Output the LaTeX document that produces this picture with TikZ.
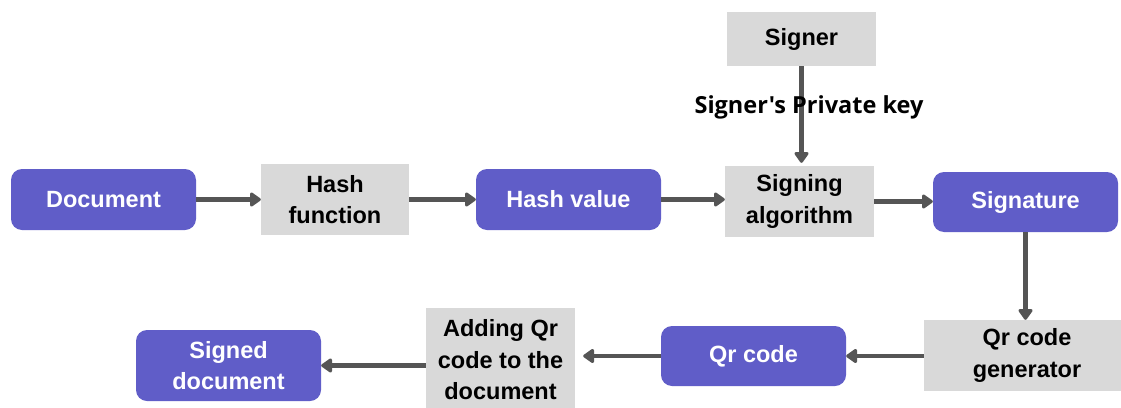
\documentclass[tikz,border=0pt]{standalone}
\usepackage{fontspec}
\setmainfont{Liberation Sans}
\newfontfamily\labelfont{Open Sans}
\usetikzlibrary{arrows.meta}
\definecolor{stepblue}{HTML}{605DC8}
\definecolor{stepgray}{HTML}{D9D9D9}
\definecolor{linkgray}{HTML}{555555}
\tikzset{
  x=1pt, y=-1pt,
  databox/.style={fill=stepblue, rounded corners=11pt, inner sep=0pt,
    text=white, font=\fontsize{23.5}{31}\selectfont\bfseries, align=center},
  procbox/.style={fill=stepgray, inner sep=0pt,
    text=black, font=\fontsize{23.5}{31.5}\selectfont\bfseries, align=center},
  link/.style={draw=linkgray, line width=4.6pt,
    -{Triangle[length=12pt,width=16pt,round]}},
}
\begin{document}
\begin{tikzpicture}
\useasboundingbox (0,0) rectangle (1121,407);
\fill[white] (0,0) rectangle (1121,407);

% top row
\node[databox, minimum width=185pt, minimum height=61pt] (doc) at (103.5,199.5) {Document};
\node[procbox, minimum width=148pt, minimum height=71pt] (hash) at (335,199.5) {Hash\\function};
\node[databox, minimum width=185pt, minimum height=61pt] (hv) at (568.5,199.5) {Hash value};
\node[procbox, minimum width=149pt, minimum height=71pt] (sign) at (799.5,201.5) {Signing\\algorithm};
\node[databox, minimum width=185pt, minimum height=60pt] (sig) at (1025.5,202) {Signature};
\node[procbox, minimum width=149pt, minimum height=54pt] (signer) at (801.5,39) {Signer};

% bottom row
\node[procbox, minimum width=206pt, minimum height=71pt] (qrg) at (1027,355.5) {Qr code\\generator};
\node[databox, minimum width=185pt, minimum height=60pt] (qr) at (753.5,356) {Qr code};
\node[procbox, minimum width=149pt, minimum height=104pt] (add) at (500.5,360) {Adding Qr\\code to the\\document};
\node[databox, minimum width=185pt, minimum height=71pt] (signed) at (228.5,365.5) {Signed\\document};

% connectors
\draw[link] (doc.east) -- (hash.west);
\draw[link] (hash.east) -- (hv.west);
\draw[link] (hv.east) -- (hv.east -| sign.west);
\draw[link] (sign.east) -- (sign.east -| sig.west);
\draw[link] (signer.south) -- ([yshift=3pt]signer.south |- sign.north);
\draw[link] (sig.south) -- (sig.south |- qrg.north);
\draw[link] (qrg.west |- qr.west) -- (qr.east);
\draw[link] (qr.west) -- ([xshift=8pt]qr.west -| add.east);
\draw[link] (signed.east -| add.west) -- (signed.east);

\node[font=\labelfont\fontsize{23.5}{28}\selectfont\bfseries, text=black, inner sep=0pt] (keylbl) at (809,107.5) {Signer's Private key};
\end{tikzpicture}
\end{document}
